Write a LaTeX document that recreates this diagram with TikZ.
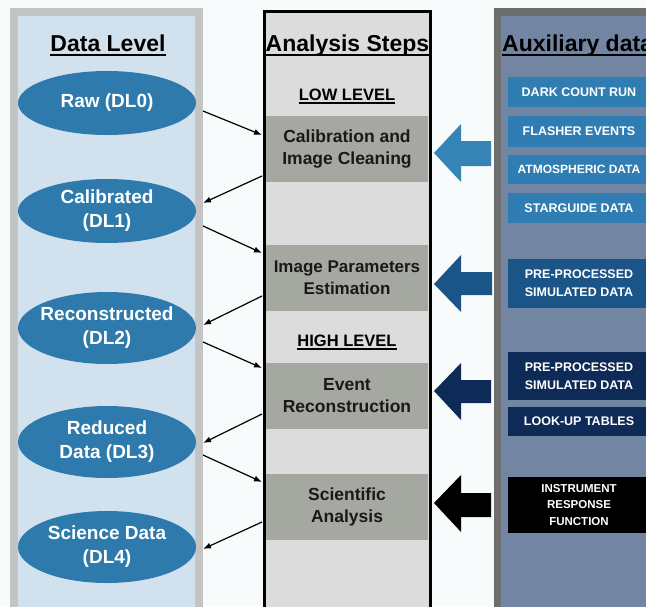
\documentclass[tikz,border=0pt]{standalone}
\usepackage{fontspec}
\setmainfont{Liberation Sans}
\usetikzlibrary{arrows.meta,shapes.geometric}
\definecolor{bgc}{HTML}{F8FBFC}
\definecolor{lgray}{HTML}{C4C4C4}
\definecolor{lblue}{HTML}{D1E2EE}
\definecolor{midfill}{HTML}{DCDCDC}
\definecolor{boxgray}{HTML}{A4A8A1}
\definecolor{rgray}{HTML}{6E6E6E}
\definecolor{rblue}{HTML}{7285A3}
\definecolor{ellblue}{HTML}{2E7AAD}
\definecolor{auxA}{HTML}{2F7DB2}
\definecolor{auxB}{HTML}{1B5588}
\definecolor{auxC}{HTML}{0E2A56}
\definecolor{arrA}{HTML}{3683B6}
\begin{document}
\begin{tikzpicture}[x=1pt,y=-1pt,
  title/.style={font=\bfseries\fontsize{23}{27}\selectfont, inner sep=0pt, anchor=base},
  level/.style={font=\bfseries\fontsize{16.5}{20}\selectfont, inner sep=0pt, anchor=base},
  uline/.style={line width=1.6pt},
  dlell/.style={ellipse, fill=ellblue, text=white, minimum width=178pt, minimum height=66pt, inner xsep=-25pt, inner ysep=-12pt, align=center, font=\bfseries\fontsize{19}{24}\selectfont},
  stepbox/.style={fill=boxgray, minimum width=162pt, minimum height=66pt, inner sep=0pt, align=center, font=\bfseries\fontsize{17.5}{22}\selectfont, text=black!90},
  auxbox/.style={minimum width=142pt, inner sep=0pt, align=center, text=white, font=\bfseries\fontsize{12.5}{18}\selectfont},
  conn/.style={line width=1.2pt, -{Latex[length=8pt,width=6pt]}}
]
\useasboundingbox (0,0) rectangle (646,606);
\clip (0,0) rectangle (646,606);
\fill[bgc] (0,0) rectangle (646,606);
% left panel
\fill[lgray] (10,8) rectangle (203,610);
\fill[lblue] (18,16) rectangle (195,610);
% middle panel
\draw[line width=3pt, fill=midfill] (264.5,11) rectangle (430.5,615);
% right panel
\fill[rgray] (494,8) rectangle (660,610);
\fill[rblue] (501,16) rectangle (660,610);

% titles
\node[title] (tdl) at (108,51) {Data Level};
\draw[uline] ([yshift=-4pt]tdl.base west) -- ([yshift=-4pt]tdl.base east);
\node[title] (tas) at (347.5,51) {Analysis Steps};
\draw[uline] ([yshift=-4pt]tas.base west) -- ([yshift=-4pt]tas.base east);
\node[title, anchor=base west] (tax) at (502,51) {Auxiliary data};
\draw[uline] ([yshift=-4pt]tax.base west) -- ([yshift=-4pt]tax.base east);

\node[level] (low) at (347,100) {LOW LEVEL};
\draw[line width=1.2pt] ([yshift=-3pt]low.base west) -- ([yshift=-3pt]low.base east);
\node[level] (high) at (347,346) {HIGH LEVEL};
\draw[line width=1.2pt] ([yshift=-3pt]high.base west) -- ([yshift=-3pt]high.base east);

% data level ellipses
\node[dlell, minimum height=64pt] (dl0) at (107,103) {Raw (DL0)};
\node[dlell, minimum height=64pt] (dl1) at (107,211) {Calibrated\\(DL1)};
\node[dlell, minimum height=72pt] (dl2) at (107,328) {Reconstructed\\(DL2)};
\node[dlell, minimum height=72pt] (dl3) at (107,442) {Reduced\\Data (DL3)};
\node[dlell, minimum height=72pt] (dl4) at (107,547) {Science Data\\(DL4)};

% analysis steps
\node[stepbox] (cal) at (347,149) {Calibration and\\Image Cleaning};
\node[stepbox, font=\bfseries\fontsize{17}{22}\selectfont] (par) at (347,278) {Image Parameters\\Estimation};
\node[stepbox] (rec) at (347,395.5) {Event\\Reconstruction};
\node[stepbox] (sci) at (347,506.5) {Scientific\\Analysis};

% connector end points
\coordinate (a1s) at (203,111); \coordinate (a1e) at (262,135);
\coordinate (a2s) at (262,176); \coordinate (a2e) at (203,203);
\coordinate (a3s) at (203,226); \coordinate (a3e) at (262,253);
\coordinate (a4s) at (262,296); \coordinate (a4e) at (203,325);
\coordinate (a5s) at (203,342); \coordinate (a5e) at (262,368);
\coordinate (a6s) at (262,414); \coordinate (a6e) at (203,443);
\coordinate (a7s) at (203,455); \coordinate (a7e) at (262,482);
\coordinate (a8s) at (262,522); \coordinate (a8e) at (203,549);
\draw[conn] (a1s) -- (a1e);
\draw[conn] (a2s) -- (a2e);
\draw[conn] (a3s) -- (a3e);
\draw[conn] (a4s) -- (a4e);
\draw[conn] (a5s) -- (a5e);
\draw[conn] (a6s) -- (a6e);
\draw[conn] (a7s) -- (a7e);
\draw[conn] (a8s) -- (a8e);

% block arrows
\fill[arrA] (434,153) -- (461,124) -- (461,141) -- (491,141) -- (491,166) -- (461,166) -- (461,182) -- cycle;
\fill[auxB] (434,284) -- (461,255) -- (461,272) -- (492,272) -- (492,295) -- (461,295) -- (461,312) -- cycle;
\fill[auxC] (434,391) -- (461,363) -- (461,380) -- (491,380) -- (491,403) -- (461,403) -- (461,420) -- cycle;
\fill[black] (434,503) -- (461,475) -- (461,493) -- (491,493) -- (491,517) -- (461,517) -- (461,532) -- cycle;

% auxiliary boxes
\node[auxbox, fill=auxA, minimum height=30pt] (dcr) at (579,92) {DARK COUNT RUN};
\node[auxbox, fill=auxA, minimum height=31pt] (fev) at (579,131.5) {FLASHER EVENTS};
\node[auxbox, fill=auxA, minimum height=29pt, font=\bfseries\fontsize{12}{18}\selectfont] (atm) at (579,169.5) {ATMOSPHERIC DATA};
\node[auxbox, fill=auxA, minimum height=30pt] (stg) at (579,208) {STARGUIDE DATA};
\node[auxbox, fill=auxB, minimum height=49pt] (pp1) at (579,283.5) {PRE-PROCESSED\\SIMULATED DATA};
\node[auxbox, fill=auxC, minimum height=48pt] (pp2) at (579,376) {PRE-PROCESSED\\SIMULATED DATA};
\node[auxbox, fill=auxC, minimum height=29pt] (lut) at (579,421.5) {LOOK-UP TABLES};
\node[auxbox, fill=black, minimum height=56pt, font=\bfseries\fontsize{11.5}{16.5}\selectfont] (irf) at (579,505) {INSTRUMENT\\RESPONSE\\FUNCTION};
\end{tikzpicture}
\end{document}
